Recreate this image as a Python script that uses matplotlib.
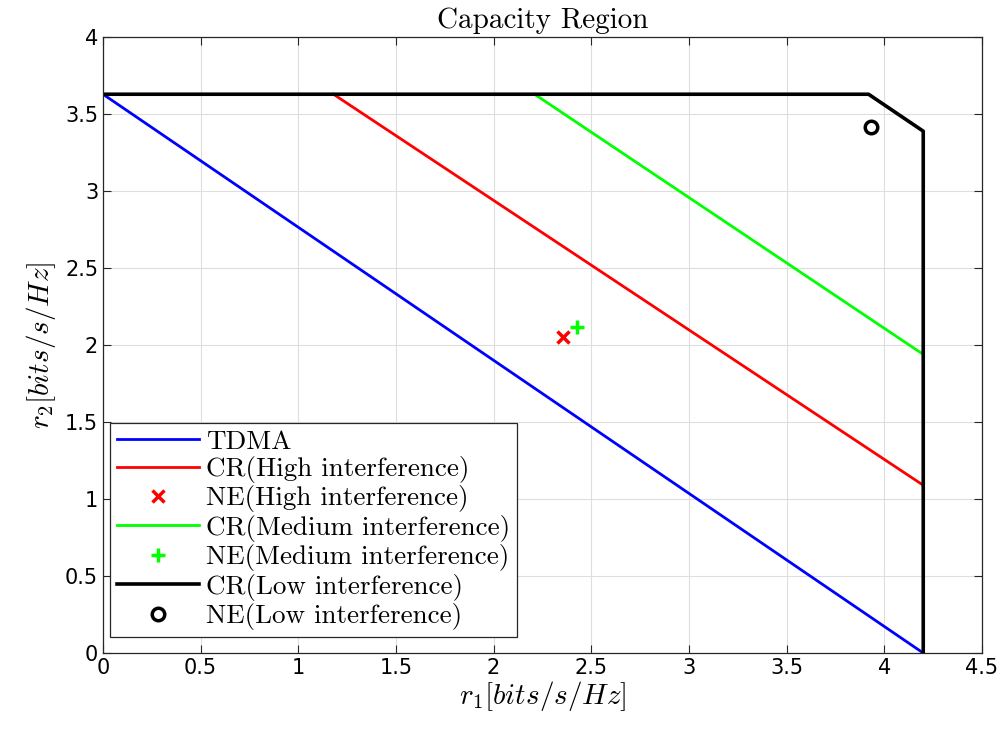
import matplotlib
matplotlib.use("Agg")
import matplotlib.pyplot as plt
import numpy as np

plt.rcParams["mathtext.fontset"] = "cm"

# DATA
tdma_x = [0.0, 4.2]
tdma_y = [3.63, 0.0]

cr_high_x = [1.18, 4.2]
cr_high_y = [3.63, 1.09]
ne_high = (2.355, 2.05)

cr_med_x = [2.21, 4.2]
cr_med_y = [3.63, 1.94]
ne_med = (2.425, 2.12)

cr_low_x = [0.0, 3.92, 4.2, 4.2]
cr_low_y = [3.63, 3.63, 3.39, 0.0]
ne_low = (3.935, 3.415)

labels = ["TDMA", "CR(High interference)", "NE(High interference)",
          "CR(Medium interference)", "NE(Medium interference)",
          "CR(Low interference)", "NE(Low interference)"]

# PLOT
fig = plt.figure(figsize=(10.07, 7.31), dpi=100)
ax = fig.add_axes([0.1023, 0.1067, 0.8727, 0.8423])

ax.plot(tdma_x, tdma_y, color="#0000ff", lw=2.0, label=labels[0])
ax.plot(cr_high_x, cr_high_y, color="#ff0000", lw=2.0, label=labels[1])
ax.plot(*ne_high, "x", color="#ff0000", ms=8, mew=2.5, label=labels[2])
ax.plot(cr_med_x, cr_med_y, color="#00ff00", lw=2.0, label=labels[3])
ax.plot(*ne_med, "+", color="#00ff00", ms=10, mew=2.5, label=labels[4])
ax.plot(cr_low_x, cr_low_y, color="black", lw=2.6, label=labels[5])
ax.plot(*ne_low, "o", mfc="none", mec="black", ms=9, mew=2.5, label=labels[6])

ax.set_xlim(0, 4.5)
ax.set_ylim(0, 4)
ax.set_xticks(np.arange(0, 4.51, 0.5))
ax.set_yticks(np.arange(0, 4.01, 0.5))
ax.set_xticklabels(["0", "0.5", "1", "1.5", "2", "2.5", "3", "3.5", "4", "4.5"])
ax.set_yticklabels(["0", "0.5", "1", "1.5", "2", "2.5", "3", "3.5", "4"])
ax.grid(True, color="#dedede", lw=0.8)
ax.tick_params(direction="in", top=True, right=True, labelsize=15, length=6, color="#262626")
for s in ax.spines.values():
    s.set_color("#262626")
    s.set_linewidth(0.9)

ax.set_xlabel(r"$r_1[bits/s/Hz]$", fontsize=21, labelpad=1)
ax.set_ylabel(r"$r_2[bits/s/Hz]$", fontsize=21, labelpad=5)
ax.set_title("Capacity Region", fontsize=21, family="cmr10", pad=7)

leg = ax.legend(loc="lower left", bbox_to_anchor=(0.008, 0.026),
                prop={"family": "cmr10", "size": 19.5},
                fancybox=False, edgecolor="#262626", framealpha=1,
                handlelength=3.05, handletextpad=0.25, borderpad=0.25,
                labelspacing=0.09, borderaxespad=0)
leg.get_frame().set_linewidth(0.9)

fig.savefig("out.png", dpi=100)
